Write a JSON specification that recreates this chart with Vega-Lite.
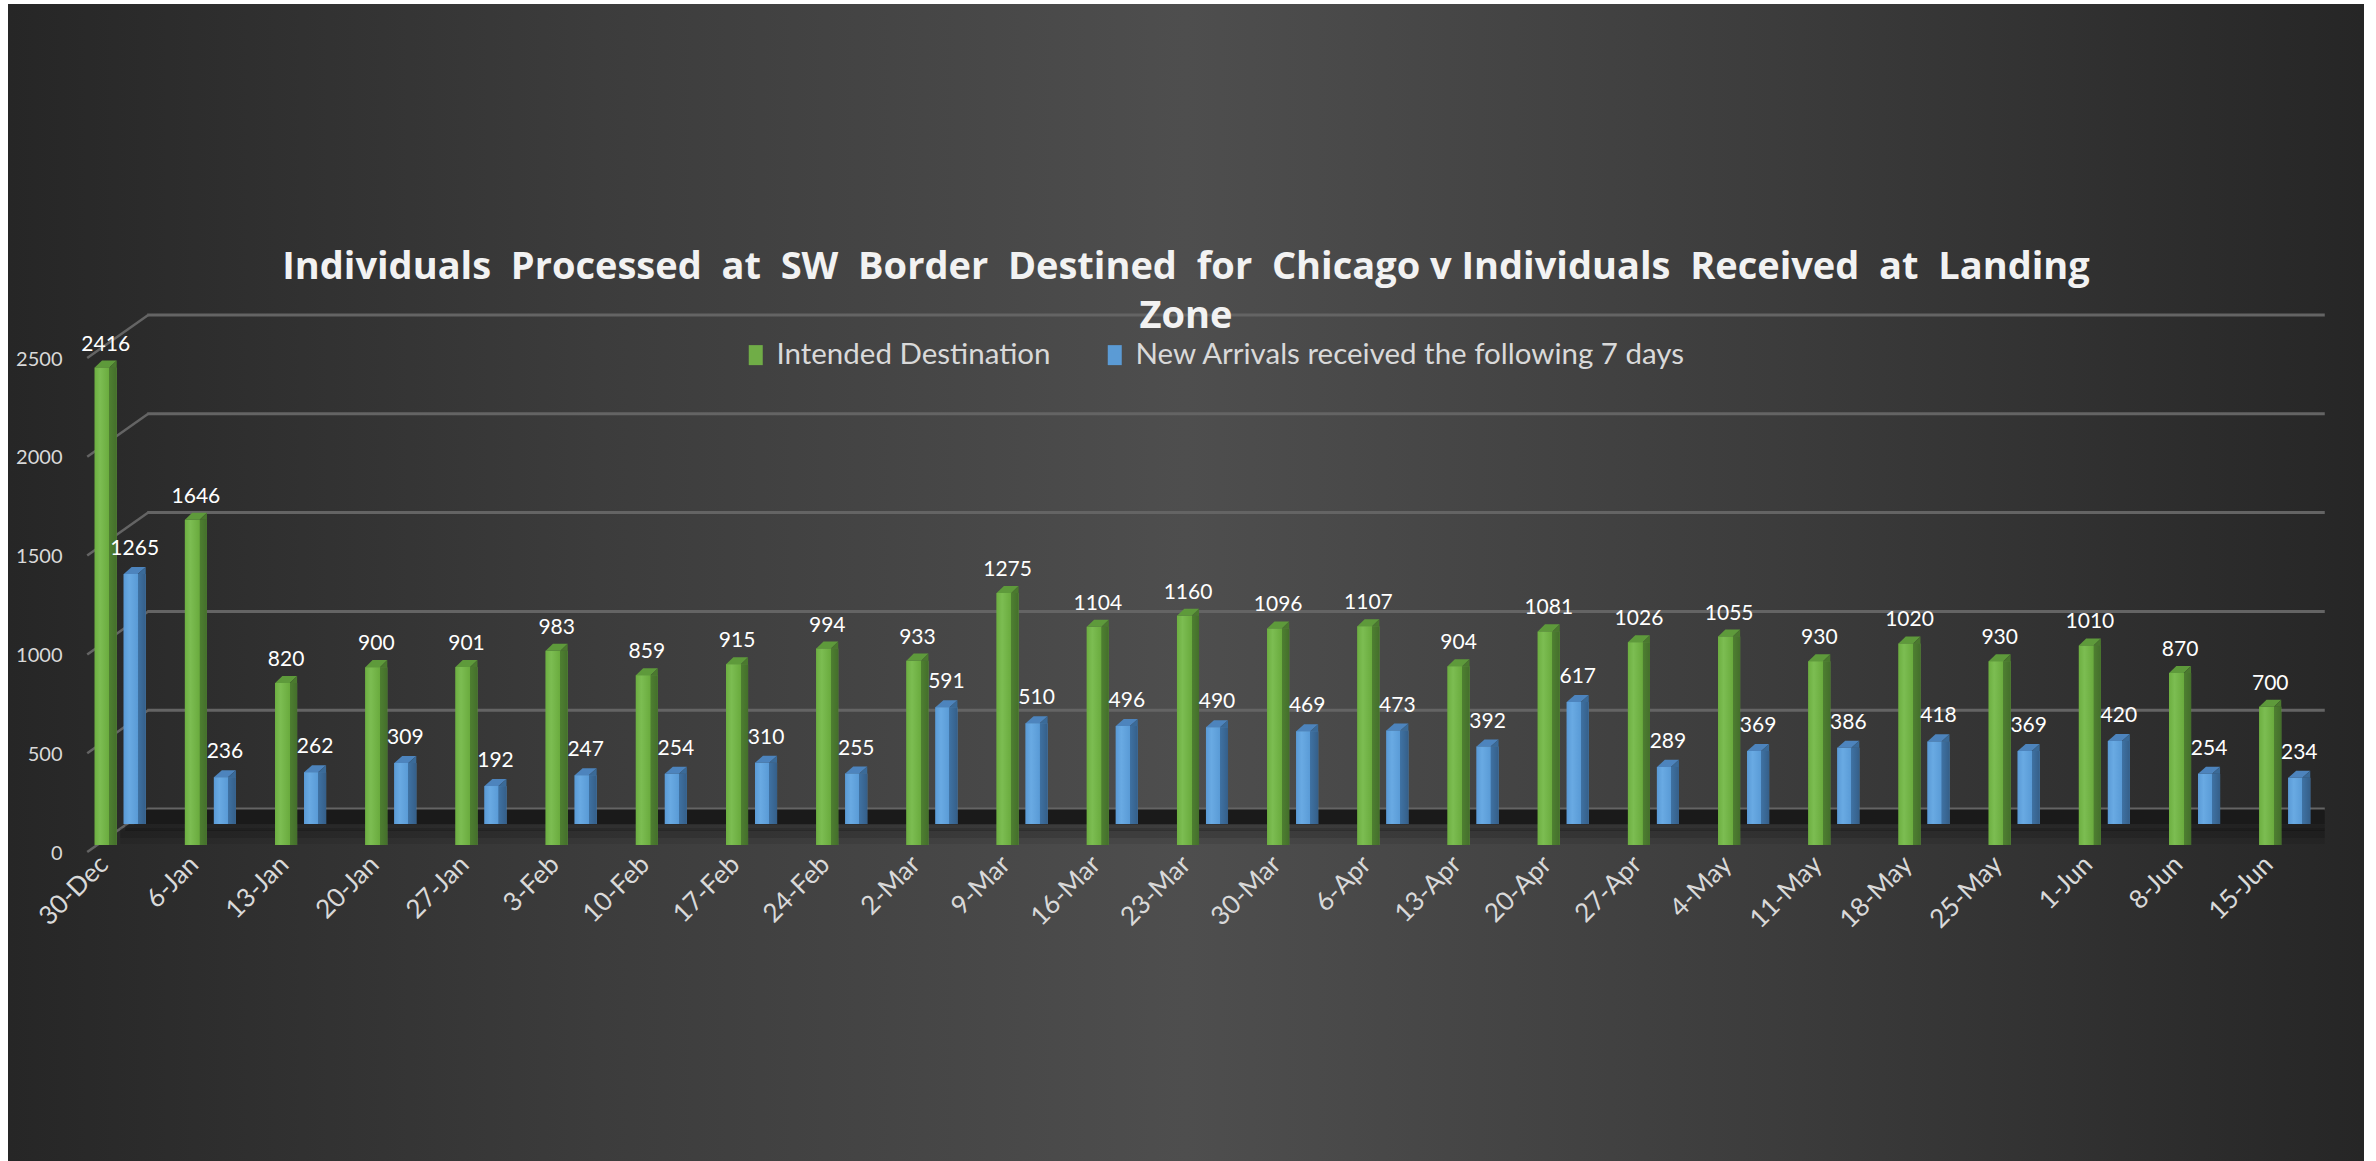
{
  "$schema": "https://vega.github.io/schema/vega-lite/v6.json",
  "autosize": "none",
  "width": 2356,
  "height": 1157,
  "padding": {"left": 8, "top": 4, "right": 12, "bottom": 0},
  "background": "#ffffff",
  "config": {
    "view": {
      "stroke": null,
      "fill": {"gradient": "linear", "x1": 0, "y1": 0, "x2": 1, "y2": 0,
        "stops": [
          {"offset": 0, "color": "#262626"},
          {"offset": 0.25, "color": "#3c3c3c"},
          {"offset": 0.5, "color": "#4e4e4e"},
          {"offset": 0.75, "color": "#3c3c3c"},
          {"offset": 1, "color": "#262626"}
        ]}
    },
    "font": "Lato"
  },
  "title": {
    "text": ["Individuals \u00a0Processed \u00a0at \u00a0SW \u00a0Border \u00a0Destined \u00a0for \u00a0Chicago v Individuals \u00a0Received \u00a0at \u00a0Landing", "Zone"],
    "font": "Open Sans",
    "fontSize": 38,
    "fontWeight": "bold",
    "color": "#f2f2f2",
    "anchor": "middle",
    "frame": "group",
    "offset": -332,
    "lineHeight": 49
  },
  "datasets": {
    "weekly": [
      {"week": "30-Dec", "Intended Destination": 2416, "New Arrivals received the following 7 days": 1265},
      {"week": "6-Jan", "Intended Destination": 1646, "New Arrivals received the following 7 days": 236},
      {"week": "13-Jan", "Intended Destination": 820, "New Arrivals received the following 7 days": 262},
      {"week": "20-Jan", "Intended Destination": 900, "New Arrivals received the following 7 days": 309},
      {"week": "27-Jan", "Intended Destination": 901, "New Arrivals received the following 7 days": 192},
      {"week": "3-Feb", "Intended Destination": 983, "New Arrivals received the following 7 days": 247},
      {"week": "10-Feb", "Intended Destination": 859, "New Arrivals received the following 7 days": 254},
      {"week": "17-Feb", "Intended Destination": 915, "New Arrivals received the following 7 days": 310},
      {"week": "24-Feb", "Intended Destination": 994, "New Arrivals received the following 7 days": 255},
      {"week": "2-Mar", "Intended Destination": 933, "New Arrivals received the following 7 days": 591},
      {"week": "9-Mar", "Intended Destination": 1275, "New Arrivals received the following 7 days": 510},
      {"week": "16-Mar", "Intended Destination": 1104, "New Arrivals received the following 7 days": 496},
      {"week": "23-Mar", "Intended Destination": 1160, "New Arrivals received the following 7 days": 490},
      {"week": "30-Mar", "Intended Destination": 1096, "New Arrivals received the following 7 days": 469},
      {"week": "6-Apr", "Intended Destination": 1107, "New Arrivals received the following 7 days": 473},
      {"week": "13-Apr", "Intended Destination": 904, "New Arrivals received the following 7 days": 392},
      {"week": "20-Apr", "Intended Destination": 1081, "New Arrivals received the following 7 days": 617},
      {"week": "27-Apr", "Intended Destination": 1026, "New Arrivals received the following 7 days": 289},
      {"week": "4-May", "Intended Destination": 1055, "New Arrivals received the following 7 days": 369},
      {"week": "11-May", "Intended Destination": 930, "New Arrivals received the following 7 days": 386},
      {"week": "18-May", "Intended Destination": 1020, "New Arrivals received the following 7 days": 418},
      {"week": "25-May", "Intended Destination": 930, "New Arrivals received the following 7 days": 369},
      {"week": "1-Jun", "Intended Destination": 1010, "New Arrivals received the following 7 days": 420},
      {"week": "8-Jun", "Intended Destination": 870, "New Arrivals received the following 7 days": 254},
      {"week": "15-Jun", "Intended Destination": 700, "New Arrivals received the following 7 days": 234}
    ],
    "ticks": [
      {"tick": 0}, {"tick": 500}, {"tick": 1000}, {"tick": 1500}, {"tick": 2000}, {"tick": 2500}
    ]
  },
  "data": {"name": "weekly"},
  "transform": [
    {"fold": ["Intended Destination", "New Arrivals received the following 7 days"], "as": ["series", "value"]}
  ],
  "layer": [
    {
      "data": {"name": "ticks"},
      "mark": {"type": "rule", "stroke": "#646464", "strokeWidth": 3, "yOffset": -36, "xOffset": 27, "x2Offset": 40},
      "encoding": {
        "x": {"datum": "30-Dec", "type": "nominal",
          "scale": {"domain": ["30-Dec", "6-Jan", "13-Jan", "20-Jan", "27-Jan", "3-Feb", "10-Feb", "17-Feb", "24-Feb", "2-Mar", "9-Mar", "16-Mar", "23-Mar", "30-Mar", "6-Apr", "13-Apr", "20-Apr", "27-Apr", "4-May", "11-May", "18-May", "25-May", "1-Jun", "8-Jun", "15-Jun"],
            "range": [67, 2322], "paddingInner": 0.357, "paddingOuter": 0.18},
          "axis": {"offset": -316, "labelAngle": -45, "labelAlign": "right", "labelBaseline": "middle", "labelOffset": -16, "labelPadding": 15, "ticks": false, "domain": false, "grid": false, "title": null, "labelFontSize": 26, "labelColor": "#d9d9d9"}},
        "x2": {"datum": "15-Jun"},
        "y": {"field": "tick", "type": "quantitative",
          "scale": {"domain": [0, 2500], "range": [841, 347], "nice": false},
          "axis": {"offset": -54, "labelPadding": 0, "ticks": false, "domain": false, "grid": false, "title": null, "format": "d", "values": [0, 500, 1000, 1500, 2000, 2500], "labelFontSize": 20, "labelColor": "#d9d9d9", "labelOffset": 8}}
      }
    },
    {
      "data": {"name": "ticks"},
      "mark": {"type": "rule", "stroke": "#646464", "strokeWidth": 2.5, "yOffset": 7, "y2Offset": -36, "xOffset": -33, "x2Offset": 28},
      "encoding": {
        "x": {"datum": "30-Dec", "type": "nominal"},
        "x2": {"datum": "30-Dec"},
        "y": {"field": "tick", "type": "quantitative"},
        "y2": {"field": "tick"}
      }
    },
    {
      "data": {"name": "ticks"},
      "transform": [{"filter": "datum.tick == 0"}],
      "mark": {"type": "rule", "stroke": "#000000", "opacity": 0.08, "strokeWidth": 14, "yOffset": -8, "xOffset": 0, "x2Offset": 40},
      "encoding": {
        "x": {"datum": "30-Dec", "type": "nominal"},
        "x2": {"datum": "15-Jun"},
        "y": {"field": "tick", "type": "quantitative"}
      }
    },
    {
      "data": {"name": "ticks"},
      "transform": [{"filter": "datum.tick == 0"}],
      "mark": {"type": "rule", "stroke": "#000000", "opacity": 0.12, "strokeWidth": 10, "yOffset": -12, "xOffset": 0, "x2Offset": 40},
      "encoding": {
        "x": {"datum": "30-Dec", "type": "nominal"},
        "x2": {"datum": "15-Jun"},
        "y": {"field": "tick", "type": "quantitative"}
      }
    },
    {
      "data": {"name": "ticks"},
      "transform": [{"filter": "datum.tick == 0"}],
      "mark": {"type": "rule", "stroke": "#000000", "opacity": 0.2, "strokeWidth": 6, "yOffset": -17, "xOffset": 5, "x2Offset": 40},
      "encoding": {
        "x": {"datum": "30-Dec", "type": "nominal"},
        "x2": {"datum": "15-Jun"},
        "y": {"field": "tick", "type": "quantitative"}
      }
    },
    {
      "data": {"name": "ticks"},
      "transform": [{"filter": "datum.tick == 0"}],
      "mark": {"type": "rule", "stroke": "#1a1a1a", "strokeWidth": 15, "yOffset": -28, "xOffset": 14, "x2Offset": 40},
      "encoding": {
        "x": {"datum": "30-Dec", "type": "nominal"},
        "x2": {"datum": "15-Jun"},
        "y": {"field": "tick", "type": "quantitative"}
      }
    },
    {
      "transform": [{"filter": "datum.series == 'New Arrivals received the following 7 days'"}],
      "mark": {"type": "bar", "yOffset": -21, "y2Offset": -21},
      "encoding": {
        "x": {"field": "week", "type": "nominal", "sort": null},
        "xOffset": {"field": "series", "type": "nominal",
          "scale": {"domain": ["Intended Destination", "New Arrivals received the following 7 days"], "paddingInner": 0.24, "paddingOuter": 0.12}},
        "y": {"field": "value", "type": "quantitative"},
        "y2": {"datum": 0},
        "color": {"field": "series", "type": "nominal",
          "scale": {"domain": ["Intended Destination", "New Arrivals received the following 7 days"], "range": ["#70ad47", "#5b9bd5"]},
          "legend": {"orient": "none", "legendX": 733, "legendY": 336, "direction": "horizontal", "title": null, "labelFontSize": 29.5, "labelLimit": 1000, "labelColor": "#d9d9d9", "symbolType": "M-0.7,-1H0.7V1H-0.7Z", "symbolSize": 400, "symbolStrokeWidth": 0, "columnPadding": 49, "labelOffset": 6, "padding": 0}}
      }
    },
    {
      "transform": [{"filter": "datum.series == 'New Arrivals received the following 7 days'"}],
      "mark": {"type": "bar", "yOffset": -21, "y2Offset": -21,
        "fill": {"gradient": "linear", "x1": 0, "y1": 0, "x2": 1, "y2": 0,
          "stops": [
            {"offset": 0, "color": "#5a9ad6"},
            {"offset": 0.25, "color": "#69aae3"},
            {"offset": 0.63, "color": "#5a9bd6"},
            {"offset": 0.64, "color": "#3f72a3"},
            {"offset": 1, "color": "#355f89"}
          ]}},
      "encoding": {
        "x": {"field": "week", "type": "nominal", "sort": null},
        "xOffset": {"field": "series", "type": "nominal"},
        "y": {"field": "value", "type": "quantitative"},
        "y2": {"datum": 0}
      }
    },
    {
      "transform": [{"filter": "datum.series == 'New Arrivals received the following 7 days'"}],
      "mark": {"type": "point", "filled": true, "opacity": 1, "strokeWidth": 0, "yOffset": -21, "size": 484, "fill": "#4d84bd", "shape": "M-1,0L0.28,0L1,-0.64L-0.28,-0.64Z"},
      "encoding": {
        "x": {"field": "week", "type": "nominal", "sort": null},
        "xOffset": {"field": "series", "type": "nominal"},
        "y": {"field": "value", "type": "quantitative"}
      }
    },
    {
      "transform": [{"filter": "datum.series == 'New Arrivals received the following 7 days'"}],
      "mark": {"type": "point", "filled": true, "opacity": 1, "strokeWidth": 0, "yOffset": -21, "size": 484, "fill": "#3a6a98", "shape": "M0.28,0L1,-0.64L1,0Z"},
      "encoding": {
        "x": {"field": "week", "type": "nominal", "sort": null},
        "xOffset": {"field": "series", "type": "nominal"},
        "y": {"field": "value", "type": "quantitative"}
      }
    },
    {
      "transform": [{"filter": "datum.series == 'Intended Destination'"}],
      "mark": {"type": "bar"},
      "encoding": {
        "x": {"field": "week", "type": "nominal", "sort": null},
        "xOffset": {"field": "series", "type": "nominal"},
        "y": {"field": "value", "type": "quantitative"},
        "y2": {"datum": 0},
        "color": {"field": "series", "type": "nominal"}
      }
    },
    {
      "transform": [{"filter": "datum.series == 'Intended Destination'"}],
      "mark": {"type": "bar",
        "fill": {"gradient": "linear", "x1": 0, "y1": 0, "x2": 1, "y2": 0,
          "stops": [
            {"offset": 0, "color": "#6daf41"},
            {"offset": 0.25, "color": "#7cbd52"},
            {"offset": 0.66, "color": "#6aab3e"},
            {"offset": 0.67, "color": "#4e7f31"},
            {"offset": 1, "color": "#446f2b"}
          ]}},
      "encoding": {
        "x": {"field": "week", "type": "nominal", "sort": null},
        "xOffset": {"field": "series", "type": "nominal"},
        "y": {"field": "value", "type": "quantitative"},
        "y2": {"datum": 0}
      }
    },
    {
      "transform": [{"filter": "datum.series == 'Intended Destination'"}],
      "mark": {"type": "point", "filled": true, "opacity": 1, "strokeWidth": 0, "size": 484, "fill": "#5e9a3b", "shape": "M-1,0L0.34,0L1,-0.64L-0.34,-0.64Z"},
      "encoding": {
        "x": {"field": "week", "type": "nominal", "sort": null},
        "xOffset": {"field": "series", "type": "nominal"},
        "y": {"field": "value", "type": "quantitative"}
      }
    },
    {
      "transform": [{"filter": "datum.series == 'Intended Destination'"}],
      "mark": {"type": "point", "filled": true, "opacity": 1, "strokeWidth": 0, "size": 484, "fill": "#4a792e", "shape": "M0.34,0L1,-0.64L1,0Z"},
      "encoding": {
        "x": {"field": "week", "type": "nominal", "sort": null},
        "xOffset": {"field": "series", "type": "nominal"},
        "y": {"field": "value", "type": "quantitative"}
      }
    },
    {
      "transform": [{"filter": "datum.series == 'Intended Destination'"}],
      "mark": {"type": "text", "dy": -23, "fontSize": 21, "fill": "#ffffff", "baseline": "middle", "align": "center"},
      "encoding": {
        "x": {"field": "week", "type": "nominal", "sort": null},
        "xOffset": {"field": "series", "type": "nominal"},
        "y": {"field": "value", "type": "quantitative"},
        "text": {"field": "value", "type": "quantitative"}
      }
    },
    {
      "transform": [{"filter": "datum.series == 'New Arrivals received the following 7 days'"}],
      "mark": {"type": "text", "dy": -46, "fontSize": 21, "fill": "#ffffff", "baseline": "middle", "align": "center"},
      "encoding": {
        "x": {"field": "week", "type": "nominal", "sort": null},
        "xOffset": {"field": "series", "type": "nominal"},
        "y": {"field": "value", "type": "quantitative"},
        "text": {"field": "value", "type": "quantitative"}
      }
    }
  ]
}
